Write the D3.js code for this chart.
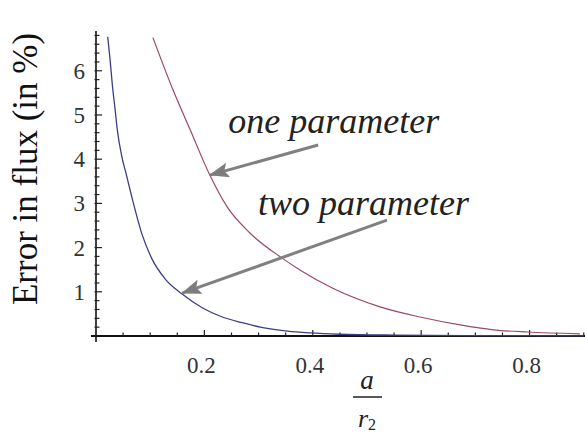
<!DOCTYPE html>
<html>
<head>
<meta charset="utf-8">
<script src="https://cdn.jsdelivr.net/npm/d3@7"></script>
<style>
	body { margin: 0; background: #fff; }
	svg { display: block; }
	text { font-family: "Liberation Serif", "Times New Roman", Times, "DejaVu Serif", serif; }
	.tick-label { font-size: 23px; fill: #333; }
	.note { font-style: italic; font-size: 36px; fill: #222; }
</style>
</head>
<body>
<div id="chart"></div>
<script>
// x = a / r2, y = error in flux (%)
const one_x = [0.105, 0.142, 0.174, 0.210, 0.242, 0.284, 0.340, 0.377, 0.437, 0.524, 0.598, 0.672, 0.733, 0.796, 0.893]
const one_y = [6.75, 5.57, 4.66, 3.64, 2.92, 2.33, 1.79, 1.49, 1.08, 0.66, 0.43, 0.25, 0.14, 0.09, 0.05]

const two_x = [0.0216, 0.026, 0.030, 0.035, 0.040, 0.047, 0.057, 0.066, 0.085, 0.103, 0.127, 0.159, 0.196, 0.233, 0.27, 0.303, 0.353, 0.395, 0.45, 0.55, 0.70, 0.90]
const two_y = [6.77, 6.25, 5.70, 5.15, 4.60, 4.10, 3.60, 3.15, 2.30, 1.75, 1.30, 0.95, 0.64, 0.43, 0.30, 0.20, 0.11, 0.07, 0.04, 0.02, 0.01, 0.005]

const x_ticks = [0.2, 0.4, 0.6, 0.8]
const y_ticks = [1, 2, 3, 4, 5, 6]

// annotations: text anchor + arrow tail / tip, all in data units
const notes = [
	{label: 'one parameter', tx: 0.244, ty: 4.59, from: [0.41, 4.32], to: [0.210, 3.64]},
	{label: 'two parameter', tx: 0.299, ty: 2.74, from: [0.537, 2.62], to: [0.159, 0.97]}
]

const w = 585, h = 434

const $svg = d3.select('#chart').append('svg')
	.attr('width', w)
	.attr('height', h)

const x = d3.scaleLinear()
	.domain([0, 0.906])
	.range([96, 587])

const y = d3.scaleLinear()
	.domain([0, 6.9])
	.range([336, 31])

// Axes (Mathematica style: ticks point into the plot)

const $axes = $svg.append('g').attr('class', 'axes')

$axes.append('line')
	.attr('x1', x(0)).attr('x2', x(0))
	.attr('y1', y(6.9)).attr('y2', y(0) + 6)
	.attr('stroke', '#111').attr('stroke-width', 1.6)

$axes.append('line')
	.attr('x1', x(0) - 5).attr('x2', w)
	.attr('y1', y(0)).attr('y2', y(0))
	.attr('stroke', '#111').attr('stroke-width', 2)

const x_minor = d3.range(0.05, 0.91, 0.05)
$axes.selectAll('.xtick')
	.data(x_minor)
	.enter()
	.append('line')
	.attr('x1', d => x(d)).attr('x2', d => x(d))
	.attr('y1', y(0))
	.attr('y2', d => y(0) - (x_ticks.some(t => Math.abs(t - d) < 1e-6) ? 6 : 3.5))
	.attr('stroke', '#222').attr('stroke-width', 1.2)

const y_minor = d3.range(0.2, 6.85, 0.2)
$axes.selectAll('.ytick')
	.data(y_minor)
	.enter()
	.append('line')
	.attr('y1', d => y(d)).attr('y2', d => y(d))
	.attr('x1', x(0) - 1.5)
	.attr('x2', d => x(0) + (y_ticks.some(t => Math.abs(t - d) < 1e-6) ? 6 : 3.5))
	.attr('stroke', '#222').attr('stroke-width', 1.2)

$axes.selectAll('.xlabel')
	.data(x_ticks)
	.enter()
	.append('text')
	.attr('class', 'tick-label')
	.attr('x', d => x(d) - 3)
	.attr('y', 373)
	.attr('text-anchor', 'middle')
	.text(d => d3.format('.1f')(d))

$axes.selectAll('.ylabel')
	.data(y_ticks)
	.enter()
	.append('text')
	.attr('class', 'tick-label')
	.attr('x', x(0) - 11)
	.attr('y', d => y(d) + 8)
	.attr('text-anchor', 'end')
	.text(d => d)

// Axis titles

$svg.append('text')
	.attr('transform', `translate(37, ${(32 + 306) / 2}) rotate(-90)`)
	.attr('text-anchor', 'middle')
	.style('font-size', '35px')
	.style('fill', '#111')
	.text('Error in flux (in %)')

const $frac = $svg.append('g')
	.attr('transform', `translate(367, 0)`)
	.style('font-style', 'italic')
	.style('fill', '#222')

$frac.append('text')
	.attr('y', 389)
	.attr('text-anchor', 'middle')
	.style('font-size', '27px')
	.text('a')

$frac.append('line')
	.attr('x1', -14).attr('x2', 15)
	.attr('y1', 397).attr('y2', 397)
	.attr('stroke', '#222').attr('stroke-width', 1.5)

const $r = $frac.append('text')
	.attr('y', 427)
	.attr('text-anchor', 'middle')
	.style('font-size', '26px')
$r.append('tspan').text('r')
$r.append('tspan')
	.attr('dy', 3)
	.style('font-size', '16px')
	.style('font-style', 'normal')
	.text('2')

// Curves

const line = d3.line()
	.x(d => x(d[0]))
	.y(d => y(d[1]))
	.curve(d3.curveMonotoneX)

$svg.append('path')
	.datum(d3.zip(two_x, two_y))
	.attr('d', line)
	.attr('fill', 'none')
	.attr('stroke', '#3d3d85')
	.attr('stroke-width', 1.3)

$svg.append('path')
	.datum(d3.zip(one_x, one_y))
	.attr('d', line)
	.attr('fill', 'none')
	.attr('stroke', '#9c4a5e')
	.attr('stroke-width', 1.2)

// Annotations

$svg.append('defs').append('marker')
	.attr('id', 'head')
	.attr('markerUnits', 'userSpaceOnUse')
	.attr('viewBox', '0 0 20 15')
	.attr('refX', 19)
	.attr('refY', 7.5)
	.attr('markerWidth', 20)
	.attr('markerHeight', 15)
	.attr('orient', 'auto')
	.append('path')
	.attr('d', 'M0,0 L20,7.5 L0,15 L4,7.5 Z')
	.attr('fill', '#7d7d7d')

const $note = $svg.selectAll('.note-g')
	.data(notes)
	.enter()
	.append('g')

$note.append('line')
	.attr('x1', d => x(d.from[0])).attr('y1', d => y(d.from[1]))
	.attr('x2', d => x(d.to[0])).attr('y2', d => y(d.to[1]))
	.attr('stroke', '#808080')
	.attr('stroke-width', 3)
	.attr('marker-end', 'url(#head)')

$note.append('text')
	.attr('class', 'note')
	.attr('x', d => x(d.tx))
	.attr('y', d => y(d.ty))
	.text(d => d.label)
</script>
</body>
</html>
